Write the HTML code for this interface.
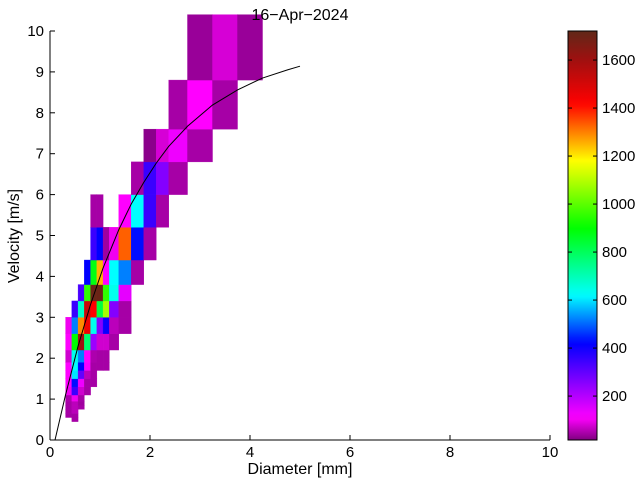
<!DOCTYPE html>
<html><head><meta charset="utf-8">
<style>
body{margin:0;background:#fff;}
svg{display:block;font-family:"Liberation Sans",sans-serif;}
</style></head>
<body>
<svg id="chart" width="640" height="480" viewBox="0 0 640 480">
  <defs>
    <linearGradient id="cbgrad" x1="0" y1="1" x2="0" y2="0"></linearGradient>
  </defs>
  <g id="cells"></g>
  <g id="fit"></g>
  <g id="axes"></g>
  <text x="300" y="20" text-anchor="middle" font-size="16">16−Apr−2024</text>
  <text x="300" y="474" text-anchor="middle" font-size="16">Diameter [mm]</text>
  <text x="19" y="236" text-anchor="middle" font-size="16" transform="rotate(-90 19 236)">Velocity [m/s]</text>
  <g id="cbar"></g>
</svg>
<script>
// ---- data ----
const diameterClasses = [0.062,0.187,0.312,0.437,0.562,0.687,0.812,0.937,1.062,1.187,1.375,1.625,1.875,2.125,2.375,2.75,3.25,3.75,4.25,4.75];
const velocityClasses = [0.05,0.15,0.25,0.35,0.45,0.55,0.65,0.75,0.85,0.95,1.1,1.3,1.5,1.7,1.9,2.2,2.6,3.0,3.4,3.8,4.4,5.2,6.0,6.8,7.6,8.8,10.4];
const rowVelocityIndex = [4,5,6,7,8,9,10,11,12,13,14,15,16,17,18,19,20,21,22,23,24,25];
const rowFirstDiameterIndex = [3,2,2,2,2,2,2,2,2,2,2,2,2,3,4,5,6,6,11,12,14,15];
const rowCounts = [
  [45],
  [45,45],
  [45,60],
  [45,60,45],
  [45,60,40],
  [50,100,45],
  [100,350,75,45],
  [110,430,130,45,45],
  [110,600,300,60,45],
  [110,620,420,120,45,45,45],
  [75,640,520,110,50,45,45],
  [110,900,1600,780,230,75,75,45],
  [100,520,1290,1450,640,260,410,60,45],
  [350,680,1520,1420,830,1080,260,45],
  [330,950,1700,1700,950,640,140],
  [420,880,1250,110,620,520,45],
  [350,420,40,100,1330,430,45],
  [45,45,0,0,110,620,350,45],
  [45,350,260,45],
  [25,80,130,45],
  [45,110,45],
  [35,80,35]
];
const fitDiameters = [0.1,0.31,0.56,0.81,1.06,1.375,1.625,1.875,2.125,2.375,2.75,3.25,3.75,4.25,4.75,5.0];
const fitVelocities = [0,1.10,2.29,3.31,4.20,5.14,5.77,6.30,6.77,7.18,7.67,8.19,8.56,8.85,9.05,9.14];
const xTicks = [0,2,4,6,8,10];
const yTicks = [0,1,2,3,4,5,6,7,8,9,10];
const cbTicks = [200,400,600,800,1000,1200,1400,1600];
const cbMin = 17, cbMax = 1721;

// ---- scales ----
const X0=50,X1=550,Y0=440,Y1=31;
const xs = d => X0 + (d/10)*(X1-X0);
const ys = v => Y0 - (v/10)*(Y0-Y1);
const CB = {x:568,w:29,top:31,bot:440};
const cbs = c => CB.bot - (c-cbMin)/(cbMax-cbMin)*(CB.bot-CB.top);

const stops = [[17,[128,0,128]],[110,[255,0,255]],[420,[0,0,255]],[620,[0,255,255]],[900,[0,255,0]],[1180,[255,255,0]],[1420,[255,0,0]],[1600,[160,16,16]],[1721,[96,40,24]]];
function cmap(v){
  if(v<=stops[0][0]) return 'rgb('+stops[0][1].join(',')+')';
  for(let i=1;i<stops.length;i++){
    if(v<=stops[i][0]){
      const t=(v-stops[i-1][0])/(stops[i][0]-stops[i-1][0]);
      const a=stops[i-1][1],b=stops[i][1];
      return 'rgb('+a.map((x,k)=>Math.round(x+(b[k]-x)*t)).join(',')+')';
    }
  }
  return 'rgb('+stops[stops.length-1][1].join(',')+')';
}
const NS='http://www.w3.org/2000/svg';
function mk(tag,attrs,parent){const e=document.createElementNS(NS,tag);for(const k in attrs)e.setAttribute(k,attrs[k]);parent.appendChild(e);return e;}

// ---- cells ----
const gc=document.getElementById('cells');
rowCounts.forEach((vals,r)=>{
  const vi=rowVelocityIndex[r];
  vals.forEach((c,j)=>{
    if(!c) return;
    const di=rowFirstDiameterIndex[r]+j;
    const xa=xs(diameterClasses[di]), xb=xs(diameterClasses[di+1]);
    const ya=ys(velocityClasses[vi+1]), yb=ys(velocityClasses[vi]);
    const el=mk('rect',{x:xa,y:ya,width:xb-xa,height:yb-ya,fill:cmap(c),stroke:cmap(c),'stroke-width':0.4},gc);
    
    
  });
});

// ---- fit curve ----
const gf=document.getElementById('fit');
const pl=mk('polyline',{points:fitDiameters.map((d,i)=>xs(d)+','+ys(fitVelocities[i])).join(' '),fill:'none',stroke:'#000','stroke-width':1},gf);



// ---- axes ----
const ga=document.getElementById('axes');
mk('line',{x1:X0,y1:Y0,x2:X1,y2:Y0,stroke:'#000','stroke-width':1},ga);
mk('line',{x1:X0,y1:Y0,x2:X0,y2:Y1,stroke:'#000','stroke-width':1},ga);
xTicks.forEach(t=>{
  mk('line',{x1:xs(t),y1:Y0,x2:xs(t),y2:Y0-5,stroke:'#000'},ga);
  const tx=mk('text',{x:xs(t),y:Y0+17,'text-anchor':'middle','font-size':15},ga);
  tx.textContent=t;
  
  
});
yTicks.forEach(t=>{
  mk('line',{x1:X0,y1:ys(t),x2:X0+5,y2:ys(t),stroke:'#000'},ga);
  const tx=mk('text',{x:X0-6,y:ys(t)+5,'text-anchor':'end','font-size':15},ga);
  tx.textContent=t;
  
  
});

// ---- colorbar ----
const grad=document.getElementById('cbgrad');
for(let i=0;i<=60;i++){const v=cbMin+(cbMax-cbMin)*i/60;mk('stop',{offset:(i/60),'stop-color':cmap(v)},grad);}
const gb=document.getElementById('cbar');
mk('rect',{x:CB.x,y:CB.top,width:CB.w,height:CB.bot-CB.top,fill:'url(#cbgrad)',stroke:'#000','stroke-width':1},gb);
cbTicks.forEach(t=>{
  const y=cbs(t);
  mk('line',{x1:CB.x,y1:y,x2:CB.x+4,y2:y,stroke:'#000'},gb);
  mk('line',{x1:CB.x+CB.w-4,y1:y,x2:CB.x+CB.w,y2:y,stroke:'#000'},gb);
  const tx=mk('text',{x:CB.x+CB.w+5,y:y+5,'font-size':15},gb);
  tx.textContent=t;
  
  
});
</script>
</body></html>
